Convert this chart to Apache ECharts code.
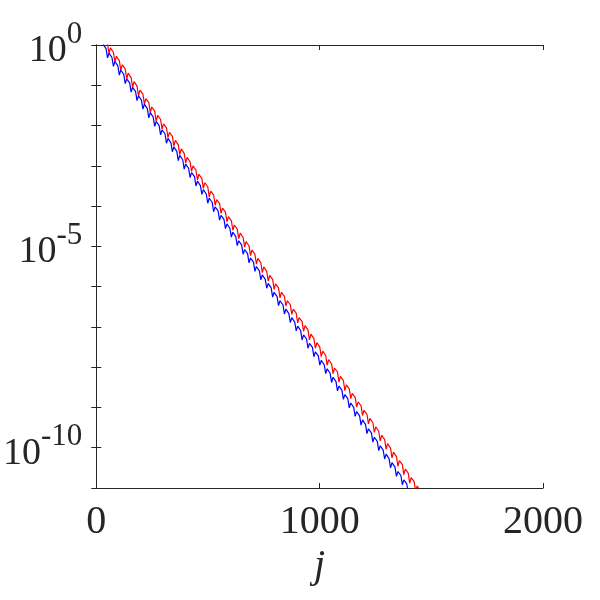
<!DOCTYPE html>
<html>
<head>
<meta charset="utf-8">
<script src="https://cdn.jsdelivr.net/npm/echarts@6/dist/echarts.min.js"></script>
<style>html,body{margin:0;padding:0;background:#fff;}#c{width:600px;height:600px;}</style>
</head>
<body>
<div id="c"></div>
<script>
// sample positions j (shared by both curves)
var jGrid = [
30.4,37,43.6,50.2,56.8, 63.4,70,76.6,83.2,89.8, 96.4,103,109.6,116.2,122.8, 129.4,136,142.6,149.2,155.8,
162.4,169,175.6,182.2,188.8, 195.4,202,208.6,215.2,221.8, 228.4,235,241.6,248.2,254.8, 261.4,268,274.6,281.2,287.8,
294.4,301,307.6,314.2,320.8, 327.4,334,340.6,347.2,353.8, 360.4,367,373.6,380.2,386.8, 393.4,400,406.6,413.2,419.8,
426.4,433,439.6,446.2,452.8, 459.4,466,472.6,479.2,485.8, 492.4,499,505.6,512.2,518.8, 525.4,532,538.6,545.2,551.8,
558.4,565,571.6,578.2,584.8, 591.4,598,604.6,611.2,617.8, 624.4,631,637.6,644.2,650.8, 657.4,664,670.6,677.2,683.8,
690.4,697,703.6,710.2,716.8, 723.4,730,736.6,743.2,749.8, 756.4,763,769.6,776.2,782.8, 789.4,796,802.6,809.2,815.8,
822.4,829,835.6,842.2,848.8, 855.4,862,868.6,875.2,881.8, 888.4,895,901.6,908.2,914.8, 921.4,928,934.6,941.2,947.8,
954.4,961,967.6,974.2,980.8, 987.4,994,1000.6,1007.2,1013.8, 1020.4,1027,1033.6,1040.2,1046.8, 1053.4,1060,1066.6,1073.2,1079.8,
1086.4,1093,1099.6,1106.2,1112.8, 1119.4,1126,1132.6,1139.2,1145.8, 1152.4,1159,1165.6,1172.2,1178.8, 1185.4,1192,1198.6,1205.2,1211.8,
1218.4,1225,1231.6,1238.2,1244.8, 1251.4,1258,1264.6,1271.2,1277.8, 1284.4,1291,1297.6,1304.2,1310.8, 1317.4,1324,1330.6,1337.2,1343.8,
1350.4,1357,1363.6,1370.2,1376.8, 1383.4,1390,1396.6,1403.2,1409.8, 1416.4,1423,1429.6,1436.2,1442.8, 1449.4,1456
];
// red curve, log10 of the value at each j
var redExp = [
0.03,0.13,
0.14,0.03,-0.21,-0.07, -0.07,-0.18,-0.42,-0.28, -0.28,-0.39,-0.63,-0.49, -0.49,-0.60,-0.84,-0.70,
-0.69,-0.81,-1.05,-0.91, -0.90,-1.02,-1.26,-1.12, -1.11,-1.22,-1.47,-1.33, -1.32,-1.43,-1.68,-1.54,
-1.53,-1.64,-1.89,-1.75, -1.74,-1.85,-2.09,-1.96, -1.95,-2.06,-2.30,-2.17, -2.16,-2.27,-2.51,-2.37,
-2.37,-2.48,-2.72,-2.58, -2.58,-2.69,-2.93,-2.79, -2.79,-2.90,-3.14,-3.00, -2.99,-3.11,-3.35,-3.21,
-3.20,-3.32,-3.56,-3.42, -3.41,-3.52,-3.77,-3.63, -3.62,-3.73,-3.98,-3.84, -3.83,-3.94,-4.18,-4.05,
-4.04,-4.15,-4.39,-4.26, -4.25,-4.36,-4.60,-4.47, -4.46,-4.57,-4.81,-4.67, -4.67,-4.78,-5.02,-4.88,
-4.88,-4.99,-5.23,-5.09, -5.08,-5.20,-5.44,-5.30, -5.29,-5.41,-5.65,-5.51, -5.50,-5.62,-5.86,-5.72,
-5.71,-5.82,-6.07,-5.93, -5.92,-6.03,-6.28,-6.14, -6.13,-6.24,-6.48,-6.35, -6.34,-6.45,-6.69,-6.56,
-6.55,-6.66,-6.90,-6.77, -6.76,-6.87,-7.11,-6.97, -6.97,-7.08,-7.32,-7.18, -7.18,-7.29,-7.53,-7.39,
-7.38,-7.50,-7.74,-7.60, -7.59,-7.71,-7.95,-7.81, -7.80,-7.92,-8.16,-8.02, -8.01,-8.12,-8.37,-8.23,
-8.22,-8.33,-8.58,-8.44, -8.43,-8.54,-8.78,-8.65, -8.64,-8.75,-8.99,-8.86, -8.85,-8.96,-9.20,-9.07,
-9.06,-9.17,-9.41,-9.27, -9.27,-9.38,-9.62,-9.48, -9.48,-9.59,-9.83,-9.69, -9.68,-9.80,-10.04,-9.90,
-9.89,-10.01,-10.25,-10.11, -10.10,-10.22,-10.46,-10.32, -10.31,-10.42,-10.67,-10.53, -10.52,-10.63,-10.88,-10.74,
-10.73,-10.84,-11.08,-10.95, -10.94,-11.05,-11.29
];
// blue curve, log10 of the value at each j
var blueExp = [
0.02,
0.01,-0.09,-0.32,-0.20, -0.20,-0.31,-0.53,-0.41, -0.41,-0.52,-0.75,-0.62, -0.62,-0.73,-0.96,-0.84,
-0.83,-0.94,-1.17,-1.05, -1.05,-1.15,-1.38,-1.26, -1.26,-1.37,-1.59,-1.47, -1.47,-1.58,-1.81,-1.68,
-1.68,-1.79,-2.02,-1.90, -1.89,-2.00,-2.23,-2.11, -2.11,-2.21,-2.44,-2.32, -2.32,-2.43,-2.65,-2.53,
-2.53,-2.64,-2.87,-2.74, -2.74,-2.85,-3.08,-2.96, -2.95,-3.06,-3.29,-3.17, -3.17,-3.27,-3.50,-3.38,
-3.38,-3.49,-3.71,-3.59, -3.59,-3.70,-3.93,-3.80, -3.80,-3.91,-4.14,-4.02, -4.01,-4.12,-4.35,-4.23,
-4.22,-4.33,-4.56,-4.44, -4.44,-4.55,-4.77,-4.65, -4.65,-4.76,-4.98,-4.86, -4.86,-4.97,-5.20,-5.08,
-5.07,-5.18,-5.41,-5.29, -5.28,-5.39,-5.62,-5.50, -5.50,-5.61,-5.83,-5.71, -5.71,-5.82,-6.04,-5.92,
-5.92,-6.03,-6.26,-6.14, -6.13,-6.24,-6.47,-6.35, -6.34,-6.45,-6.68,-6.56, -6.56,-6.67,-6.89,-6.77,
-6.77,-6.88,-7.10,-6.98, -6.98,-7.09,-7.32,-7.20, -7.19,-7.30,-7.53,-7.41, -7.40,-7.51,-7.74,-7.62,
-7.62,-7.72,-7.95,-7.83, -7.83,-7.94,-8.16,-8.04, -8.04,-8.15,-8.38,-8.25, -8.25,-8.36,-8.59,-8.47,
-8.46,-8.57,-8.80,-8.68, -8.68,-8.78,-9.01,-8.89, -8.89,-9.00,-9.22,-9.10, -9.10,-9.21,-9.44,-9.31,
-9.31,-9.42,-9.65,-9.53, -9.52,-9.63,-9.86,-9.74, -9.74,-9.84,-10.07,-9.95, -9.95,-10.06,-10.28,-10.16,
-10.16,-10.27,-10.50,-10.37, -10.37,-10.48,-10.71,-10.59, -10.58,-10.69,-10.92,-10.80, -10.80,-10.90,-11.13,-11.01,
-11.01,-11.12,-11.34,-11.22, -11.22,-11.33,-11.56,-11.43
];
var xTicks = [0, 1000, 2000];
var yLabelExps = [0, -5, -10];
var xName = 'j';

var FONT = "'Liberation Serif','Times New Roman',serif";
var AX = '#262626';

function toPairs(exps) {
  var out = [];
  for (var i = 0; i < jGrid.length && i < exps.length; i++) out.push([jGrid[i], Math.pow(10, exps[i])]);
  return out;
}

var chart = echarts.init(document.getElementById('c'), null, {renderer: 'canvas'});
var xCommon = {
  type: 'value', min: xTicks[0], max: xTicks[xTicks.length - 1], interval: xTicks[1] - xTicks[0],
  axisLine: {show: true, lineStyle: {color: AX, width: 1}},
  axisTick: {show: true, inside: true, length: 5, lineStyle: {color: AX}},
  splitLine: {show: false}
};
var yCommon = {
  type: 'log', logBase: 10, min: 1e-11, max: 1, interval: 1,
  axisLine: {show: true, lineStyle: {color: AX, width: 1}},
  axisTick: {show: true, inside: true, length: 5, lineStyle: {color: AX}},
  splitLine: {show: false}, minorTick: {show: false}
};
chart.setOption({
  animation: false,
  backgroundColor: '#ffffff',
  grid: {left: 96, top: 45, width: 447, height: 443, containLabel: false},
  xAxis: [
    Object.assign({}, xCommon, {
      position: 'bottom',
      axisLabel: {show: true, margin: 14, fontFamily: FONT, fontSize: 40, color: AX,
        formatter: function (v) { return xTicks.indexOf(v) >= 0 ? String(v) : ''; }},
      name: xName, nameLocation: 'middle', nameGap: 56,
      nameTextStyle: {fontFamily: FONT, fontSize: 40, fontStyle: 'italic', color: AX}
    }),
    Object.assign({}, xCommon, {position: 'top', axisLabel: {show: false}})
  ],
  yAxis: [
    Object.assign({}, yCommon, {
      position: 'left',
      axisLabel: {
        show: true, margin: 14, color: AX, padding: [12, 0, 0, 0],
        formatter: function (v) {
          var e = Math.round(Math.log(v) / Math.LN10);
          if (yLabelExps.indexOf(e) < 0) return '';
          return '{b|10}{s|' + e + '}';
        },
        rich: {
          b: {fontFamily: FONT, fontSize: 38, lineHeight: 38, verticalAlign: 'bottom', color: AX},
          s: {fontFamily: FONT, fontSize: 31, lineHeight: 30, verticalAlign: 'bottom', padding: [0, 0, 20, 0], color: AX}
        }
      }
    }),
    Object.assign({}, yCommon, {position: 'right', axisLabel: {show: false}})
  ],
  series: [
    {type: 'line', name: 'red', data: toPairs(redExp), xAxisIndex: 0, yAxisIndex: 0,
     showSymbol: false, symbol: 'none', clip: true, lineStyle: {color: '#ff0000', width: 1.2}, z: 2},
    {type: 'line', name: 'blue', data: toPairs(blueExp), xAxisIndex: 0, yAxisIndex: 0,
     showSymbol: false, symbol: 'none', clip: true, lineStyle: {color: '#0000ff', width: 1.2}, z: 3}
  ]
});
</script>
</body>
</html>
